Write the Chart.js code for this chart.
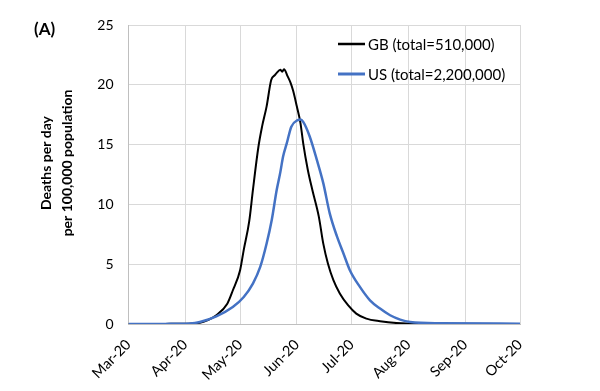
<!DOCTYPE html>
<html>
<head>
<meta charset="utf-8">
<script src="https://cdn.jsdelivr.net/npm/chart.js@4/dist/chart.umd.min.js"></script>
<style>
html,body{margin:0;padding:0;background:#fff;}
#wrap{width:600px;height:391px;position:relative;}
</style>
</head>
<body>
<div id="wrap"><canvas id="c" width="600" height="391"></canvas></div>
<script>
// Days since 1 Mar 2020
const monthTickDays = [0, 31, 61, 92, 122, 153, 184, 214];
const monthTickLabels = ['Mar-20','Apr-20','May-20','Jun-20','Jul-20','Aug-20','Sep-20','Oct-20'];

const gbLabel = 'GB (total=510,000)';
const gbDay    = [0, 20, 35, 39, 43, 48, 54, 57, 61, 63, 66, 68, 71, 73, 75.5, 78, 80, 81, 83, 84, 85, 87, 88.5, 90, 92, 94, 95.5, 98, 100.5, 104, 106.5, 109, 112, 115.5, 120, 124.5, 130, 137.5, 146.5, 160, 214];
const gbDeaths = [0, 0.01, 0.05, 0.1, 0.3, 0.73, 1.7, 2.8, 4.5, 6.2, 8.6, 11.2, 14.8, 16.5, 18.2, 20.4, 20.8, 21.0, 21.25, 21.1, 21.3, 20.7, 20.2, 19.5, 18.2, 16.8, 15.1, 12.9, 11.2, 9.0, 6.7, 5.06, 3.66, 2.55, 1.57, 0.87, 0.45, 0.23, 0.08, 0.02, 0];

const usLabel = 'US (total=2,200,000)';
const usDay    = [0, 20, 33.5, 39, 48, 57, 63, 68, 72, 75.5, 78.3, 81, 83, 84.5, 86.5, 89, 92.5, 94, 95.5, 99, 103, 106.5, 110, 114, 117.5, 121, 126.5, 132, 137.5, 143, 148.5, 154, 170, 214];
const usDeaths = [0, 0.01, 0.05, 0.17, 0.64, 1.42, 2.26, 3.38, 4.77, 6.73, 8.7, 11.2, 12.7, 14.0, 15.1, 16.5, 17.05, 17.1, 16.9, 15.7, 13.7, 11.76, 9.25, 7.3, 5.9, 4.5, 3.1, 1.98, 1.29, 0.73, 0.37, 0.17, 0.06, 0.03];

const yTickValues = [0, 5, 10, 15, 20, 25];
const yTitleLines = ['Deaths per day', 'per 100,000 population'];
const panelLabel = '(A)';

const FONT = 'Lato, "Open Sans", "Liberation Sans", sans-serif';

const toXY = (xs, ys) => xs.map((x, i) => ({x: x, y: ys[i]}));

const annotPlugin = {
  id: 'annot',
  afterDraw(chart) {
    const ctx = chart.ctx;
    const ca = chart.chartArea;
    ctx.save();
    // panel label
    ctx.fillStyle = '#000';
    ctx.font = 'bold 17px ' + FONT;
    ctx.textAlign = 'left';
    ctx.textBaseline = 'middle';
    ctx.fillText(panelLabel, 34, 30);
    // y title
    ctx.font = 'bold 14px ' + FONT;
    ctx.textAlign = 'center';
    ctx.textBaseline = 'middle';
    const xs = [46, 67];
    yTitleLines.forEach((t, i) => {
      ctx.save();
      ctx.translate(xs[i], 163);
      ctx.rotate(-Math.PI / 2);
      ctx.fillText(t, 0, 0);
      ctx.restore();
    });
    // legend
    const items = chart.data.datasets;
    const lx = ca.right - 182;
    const ys = [ca.top + 19, ca.top + 49];
    ctx.font = '15px ' + FONT;
    ctx.textAlign = 'left';
    items.forEach((ds, i) => {
      ctx.strokeStyle = ds.borderColor;
      ctx.lineWidth = i === 0 ? 2.5 : 3;
      ctx.beginPath();
      ctx.moveTo(lx, ys[i]);
      ctx.lineTo(lx + 27, ys[i]);
      ctx.stroke();
      ctx.fillStyle = '#000';
      ctx.fillText(ds.label, lx + 30, ys[i] + 1);
    });
    ctx.restore();
  }
};

new Chart(document.getElementById('c'), {
  type: 'line',
  data: {
    datasets: [
      { label: gbLabel, data: toXY(gbDay, gbDeaths), borderColor: '#000000', borderWidth: 2, pointRadius: 0, cubicInterpolationMode: 'monotone', order: 2 },
      { label: usLabel, data: toXY(usDay, usDeaths), borderColor: '#4472C4', borderWidth: 2.5, pointRadius: 0, cubicInterpolationMode: 'monotone', order: 1 }
    ]
  },
  options: {
    responsive: false,
    animation: false,
    events: [],
    layout: { padding: { left: 0, top: 25, right: 80, bottom: 0 } },
    plugins: { legend: { display: false }, tooltip: { enabled: false } },
    scales: {
      x: {
        type: 'linear',
        min: 0, max: 214,
        afterBuildTicks(scale) { scale.ticks = monthTickDays.map(v => ({value: v})); },
        afterFit(scale) { scale.height = 67; scale.paddingLeft = 0; scale.paddingRight = 0; },
        grid: { color: '#d9d9d9', lineWidth: 1, drawTicks: false },
        border: { color: '#bfbfbf', width: 1 },
        ticks: {
          autoSkip: false, maxRotation: 45, minRotation: 45, padding: 12,
          color: '#000', font: { family: FONT, size: 14.5 },
          callback(v) { const i = monthTickDays.indexOf(v); return i >= 0 ? monthTickLabels[i] : ''; }
        }
      },
      y: {
        min: 0, max: 25,
        afterBuildTicks(scale) { scale.ticks = yTickValues.map(v => ({value: v})); },
        afterFit(scale) { scale.width = 128.5; scale.paddingTop = 0; scale.paddingBottom = 0; },
        grid: { color: '#d9d9d9', lineWidth: 1, drawTicks: false },
        border: { color: '#bfbfbf', width: 1 },
        ticks: { padding: 15, color: '#000', font: { family: FONT, size: 14 } }
      }
    }
  },
  plugins: [annotPlugin]
});
</script>
</body>
</html>
